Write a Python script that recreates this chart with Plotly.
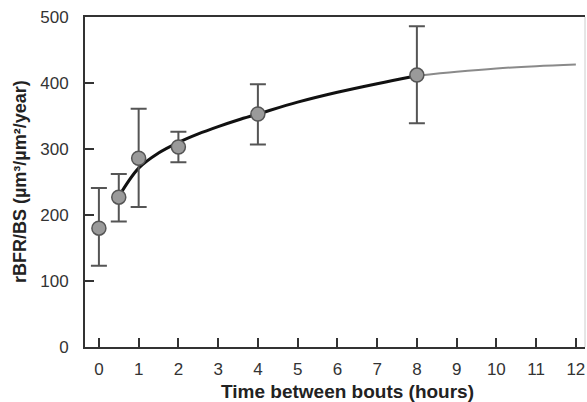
import plotly.graph_objects as go

# Measured data points (mean ± error)
time_h = [0, 0.5, 1, 2, 4, 8]
rbfr = [180, 227, 286, 303, 353, 412]
err_plus = [61, 35, 75, 23, 45, 74]
err_minus = [57, 37, 74, 23, 46, 73]

# Fitted curve, solid part and extrapolated part
fit_x = [0.5, 1, 1.5, 2, 2.5, 3, 3.5, 4, 5, 6, 7, 8]
fit_y = [228, 271, 294, 310, 323, 334, 344, 353, 371, 386, 399, 411]
ext_x = [8, 9, 10, 11, 12]
ext_y = [411, 417, 422, 425.5, 428]

x_ticks = list(range(0, 13))
y_ticks = [0, 100, 200, 300, 400, 500]

FONT = "Liberation Sans, Arial, sans-serif"

fig = go.Figure()
fig.add_trace(go.Scatter(x=ext_x, y=ext_y, mode="lines", line=dict(color="#8a8a8a", width=2, shape="spline"),
                         hoverinfo="skip", showlegend=False))
fig.add_trace(go.Scatter(x=fit_x, y=fit_y, mode="lines", line=dict(color="#111111", width=3, shape="spline"),
                         hoverinfo="skip", showlegend=False))
fig.add_trace(go.Scatter(
    x=time_h, y=rbfr, mode="markers",
    marker=dict(size=14, color="#9a9a9a", line=dict(color="#555555", width=1.5)),
    error_y=dict(type="data", symmetric=False, array=err_plus, arrayminus=err_minus,
                 color="#555555", thickness=2, width=8),
    showlegend=False))

fig.update_layout(
    width=587, height=402,
    margin=dict(l=85, r=2, t=17, b=55),
    paper_bgcolor="white", plot_bgcolor="white",
    font=dict(family=FONT, size=17, color="#333333"),
    xaxis=dict(range=[-0.35, 12.23], tickvals=x_ticks, ticks="inside", ticklen=9, tickwidth=2,
               tickcolor="#333333", showline=True, linecolor="#333333", linewidth=2, mirror=True,
               showgrid=False, zeroline=False, ticklabelstandoff=6,
               tickfont=dict(family=FONT, size=17, color="#333333")),
    yaxis=dict(range=[0, 500], tickvals=y_ticks, ticks="inside", ticklen=9, tickwidth=2,
               tickcolor="#333333", showline=True, linecolor="#333333", linewidth=2,
               showgrid=False, zeroline=False, ticklabelstandoff=11,
               tickfont=dict(family=FONT, size=17, color="#333333")),
    shapes=[dict(type="line", xref="paper", yref="paper", x0=1, x1=1, y0=0, y1=1,
                 line=dict(color="#cccccc", width=1))],
    annotations=[
        dict(text="<b>Time between bouts (hours)</b>", xref="paper", yref="paper",
             x=(347 - 85) / 500, y=-(391 - 347) / 330, xanchor="center", yanchor="middle",
             showarrow=False, font=dict(family=FONT, size=19, color="#222222")),
        dict(text="<b>rBFR/BS (µm³/µm²/year)</b>", xref="paper", yref="paper",
             x=-(85 - 20) / 500, y=0.5, xanchor="center", yanchor="middle", textangle=-90,
             showarrow=False, font=dict(family=FONT, size=18, color="#222222")),
    ],
)

fig.write_html("out.html")
